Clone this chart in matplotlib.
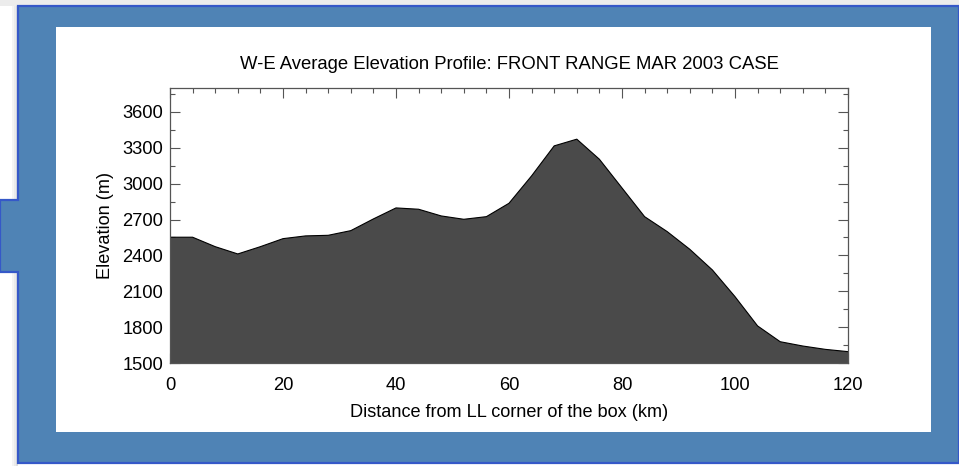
import matplotlib
matplotlib.use("Agg")
import matplotlib.pyplot as plt
from matplotlib.patches import Polygon, Rectangle
from matplotlib.ticker import MultipleLocator

plt.rcParams['font.family'] = ['Liberation Sans', 'DejaVu Sans']

distance_km = [0, 4, 8, 12, 16, 20, 24, 28, 32, 36, 40, 44, 48, 52, 56, 60,
               64, 68, 72, 76, 80, 84, 88, 92, 96, 100, 104, 108, 112, 116, 120]
elevation_m = [2552, 2552, 2473, 2412, 2473, 2540, 2563, 2568, 2607, 2705, 2797,
               2786, 2730, 2702, 2724, 2836, 3065, 3316, 3372, 3204, 2964, 2724,
               2599, 2451, 2278, 2055, 1810, 1678, 1642, 1614, 1595]
x_ticks = [0, 20, 40, 60, 80, 100, 120]
y_ticks = [1500, 1800, 2100, 2400, 2700, 3000, 3300, 3600]
title = "W-E Average Elevation Profile: FRONT RANGE MAR 2003 CASE"
xlabel = "Distance from LL corner of the box (km)"
ylabel = "Elevation (m)"

W, H = 959, 466
fig = plt.figure(figsize=(W / 100, H / 100), dpi=100)
fig.patch.set_facecolor('white')

def P(x, y):
    return (x / W, 1 - y / H)

# light gray strip at top
fig.add_artist(Rectangle(P(0, 6), 1, 6 / H, transform=fig.transFigure,
                         facecolor='#ececec', edgecolor='none', zorder=0))
# soft shadows left of the frame
for i, c in enumerate(['#f4f4f4', '#eaeaea', '#dedede']):
    off = 6 - 2 * i
    fig.add_artist(Rectangle(P(18 - off, 200), off / W, 194 / H,
                             transform=fig.transFigure, facecolor=c,
                             edgecolor='none', zorder=0))
    fig.add_artist(Rectangle(P(18 - off, 466), off / W, 194 / H,
                             transform=fig.transFigure, facecolor=c,
                             edgecolor='none', zorder=0))

blue_pts = [(18, 6), (959, 6), (959, 463), (18, 463), (18, 272), (0, 272),
            (0, 200), (18, 200)]
fig.add_artist(Polygon([P(*p) for p in blue_pts], closed=True,
                       transform=fig.transFigure, facecolor='#4f83b5',
                       edgecolor='#3558c8', linewidth=1.6, zorder=1))
# white panel
fig.add_artist(Rectangle(P(56, 432), (931 - 56) / W, (432 - 27) / H,
                         transform=fig.transFigure, facecolor='white',
                         edgecolor='none', zorder=2))

ax = fig.add_axes([170 / W, 1 - 363 / H, (848 - 170) / W, (363 - 88) / H])
ax.set_zorder(3)
ax.set_facecolor('white')
ax.fill_between(distance_km, elevation_m, 1500, facecolor='#4a4a4a',
                edgecolor='none', zorder=2)
ax.plot(distance_km, elevation_m, color='black', lw=0.8, zorder=3)
ax.set_xlim(0, 120)
ax.set_ylim(1500, 3800)
ax.set_xticks(x_ticks)
ax.set_yticks(y_ticks)
ax.xaxis.set_minor_locator(MultipleLocator(4))
ax.yaxis.set_minor_locator(MultipleLocator(150))
ax.tick_params(which='both', direction='in', top=True, right=True,
               colors='#555555', labelcolor='black', labelsize=13.2, width=0.8)
ax.tick_params(which='major', length=7)
ax.tick_params(which='minor', length=3.5, bottom=False)
ax.tick_params(axis='y', pad=5)
ax.tick_params(axis='x', pad=10)
for s in ax.spines.values():
    s.set_color('#555555')
    s.set_linewidth(0.9)
    s.set_zorder(5)
ax.set_title(title, fontsize=13.3, pad=14)
ax.set_xlabel(xlabel, fontsize=13.1, labelpad=7)
ax.set_ylabel(ylabel, fontsize=13.1, labelpad=6)

fig.savefig('out.png', dpi=100)
